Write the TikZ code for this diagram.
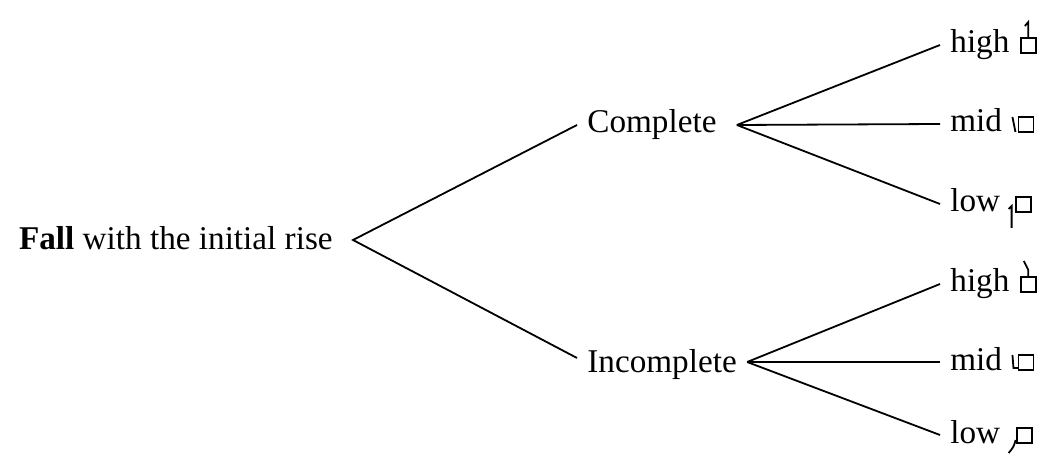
\documentclass[tikz,border=0pt]{standalone}
\usepackage{fontspec}
\setmainfont{Liberation Serif}
\usetikzlibrary{positioning}

\tikzset{
  branch/.style={line width=0.9pt},
  lbl/.style={inner sep=5pt, font=\fontsize{16.6}{20}\selectfont},
  pitchmark/.style={line width=0.9pt},
  % pitch marks, drawn from the base east of a leaf
  pics/hiflag/.style={code={
    \draw[pitchmark] (1,-15) rectangle (16,0);
    \draw[pitchmark] (8.5,-15) -- (8.5,-31) -- (5,-27);}},
  pics/hibend/.style={code={
    \draw[pitchmark] (1,-15) rectangle (16,0);
    \draw[pitchmark] (8.5,-15) -- (8.5,-22) -- (4,-31);}},
  pics/midslash/.style={code={
    \draw[pitchmark] (6,-15) rectangle (21,0);
    \draw[pitchmark] (0,-15) -- (3,0);}},
  pics/midhook/.style={code={
    \draw[pitchmark] (6,-15) rectangle (21,0);
    \draw[pitchmark] (0,-15) -- (1,-2) -- (6,-2);}},
  pics/lowone/.style={code={
    \draw[pitchmark] (5,-15) rectangle (20,0);
    \draw[pitchmark] (-2,-3) -- (1,-6) -- (1,16);}},
  pics/lowcurl/.style={code={
    \draw[pitchmark] (6,-15) rectangle (21,0);
    \draw[pitchmark] (5,-3) .. controls (3,4) .. (-2,10);}}
}

\begin{document}
\begin{tikzpicture}[x=0.5pt, y=-0.5pt]
  \useasboundingbox (0,0) rectangle (1053,459);
  % --- root and first fork ---
  \node[lbl, anchor=base east] (root) at (343,250) {\textbf{Fall} with the initial rise};
  \node[lbl, anchor=base west] (comp) at (577,133) {Complete};
  \node[lbl, anchor=base west] (inc) at (577,372) {Incomplete};
  \draw[branch] ([yshift=4pt]comp.base west) -- ([xshift=5pt, yshift=5pt]root.base east)
    -- ([yshift=7pt]inc.base west);
  % --- leaves ---
  \node[lbl, anchor=base west] (hi1) at (940,53) {high};
  \node[lbl, anchor=base west] (mid1) at (940,132) {mid};
  \node[lbl, anchor=base west] (low1) at (940,212) {low};
  \node[lbl, anchor=base west] (hi2) at (940,292) {high};
  \node[lbl, anchor=base west] (mid2) at (940,370) {mid};
  \node[lbl, anchor=base west] (low2) at (940,443) {low};
  \foreach \leaf in {hi1, mid1, low1}
    \draw[branch] ([xshift=5pt, yshift=4pt]comp.base east) -- ([yshift=4pt]\leaf.base west);
  \foreach \leaf in {hi2, mid2, low2}
    \draw[branch] ([yshift=5pt]inc.base east) -- ([yshift=4pt]\leaf.base west);
  % --- pitch marks ---
  \pic at (hi1.base east) {hiflag};
  \pic at (mid1.base east) {midslash};
  \pic at (low1.base east) {lowone};
  \pic at (hi2.base east) {hibend};
  \pic at (mid2.base east) {midhook};
  \pic at (low2.base east) {lowcurl};
\end{tikzpicture}
\end{document}
